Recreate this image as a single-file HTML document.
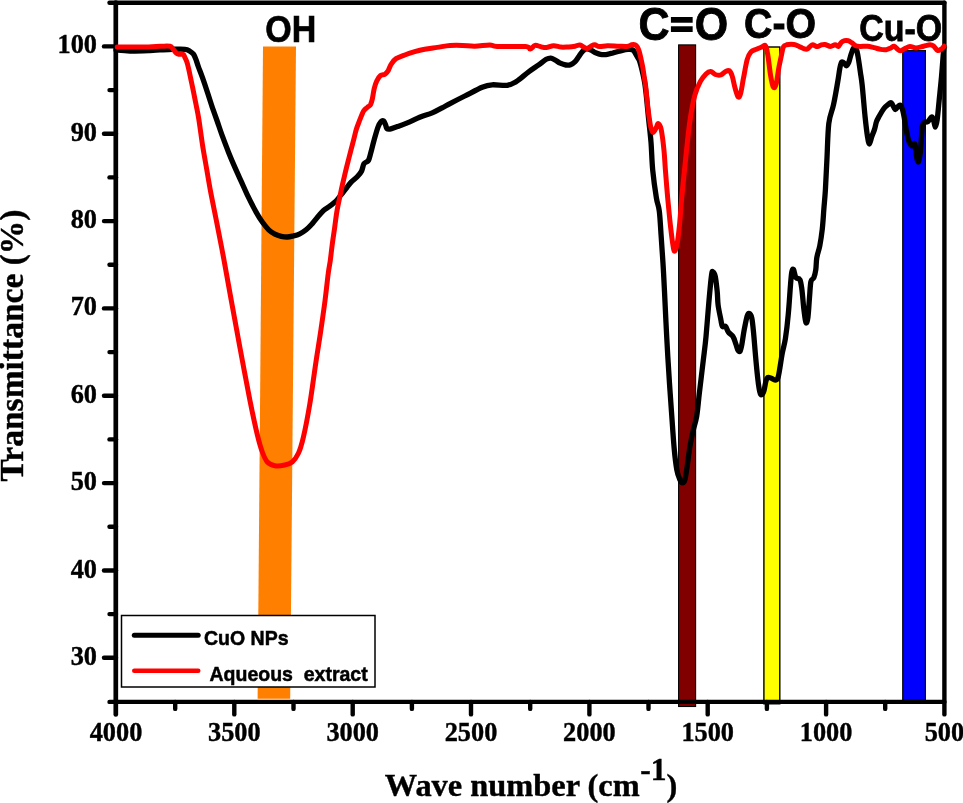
<!DOCTYPE html>
<html lang="en"><head><meta charset="utf-8"><title>FTIR spectra</title>
<style>html,body{margin:0;padding:0;background:#fff}svg{display:block;will-change:transform}.s{font-family:"Liberation Serif",serif;font-weight:bold;fill:#000}.a{font-family:"Liberation Sans",sans-serif;font-weight:bold;fill:#000}</style></head><body>
<svg width="963" height="803" viewBox="0 0 963 803">
<rect width="963" height="803" fill="#fff"/>
<polygon points="263,46.4 296,46.4 290.2,698.8 257.6,698.8" fill="#ff8000"/>
<rect x="678.6" y="44.9" width="17" height="661.6" fill="#800000" stroke="#000" stroke-width="1.1"/>
<rect x="763.9" y="47" width="15.9" height="656.8" fill="#ffff00" stroke="#000" stroke-width="1.4"/>
<rect x="902.75" y="50.6" width="22.65" height="650" fill="#0000ff" stroke="#000" stroke-width="1.2"/>
<g stroke="#000" stroke-width="4.4" stroke-linecap="round" fill="none">
<path d="M115.8 2.7 V714.4" stroke-width="4.7"/>
<path d="M944.4 2.7 V714.4"/>
<path d="M109.5 2.7 H944.4"/>
<path d="M109.5 701.9 H944.4"/>
<path d="M104 657.8 H116"/>
<path d="M104 570.5 H116"/>
<path d="M104 483.1 H116"/>
<path d="M104 395.8 H116"/>
<path d="M104 308.4 H116"/>
<path d="M104 221.1 H116"/>
<path d="M104 133.7 H116"/>
<path d="M104 46.4 H116"/>
<path d="M109.5 614.1 H116"/>
<path d="M109.5 526.8 H116"/>
<path d="M109.5 439.4 H116"/>
<path d="M109.5 352.1 H116"/>
<path d="M109.5 264.8 H116"/>
<path d="M109.5 177.4 H116"/>
<path d="M109.5 90.1 H116"/>
<path d="M234.3 701.9 V714.4"/>
<path d="M352.7 701.9 V714.4"/>
<path d="M471.0 701.9 V714.4"/>
<path d="M589.4 701.9 V714.4"/>
<path d="M707.7 701.9 V714.4"/>
<path d="M826.1 701.9 V714.4"/>
<path d="M175.2 701.9 V708.9"/>
<path d="M293.5 701.9 V708.9"/>
<path d="M411.9 701.9 V708.9"/>
<path d="M530.2 701.9 V708.9"/>
<path d="M648.5 701.9 V708.9"/>
<path d="M766.9 701.9 V708.9"/>
<path d="M885.2 701.9 V708.9"/>
</g>
<path d="M116.0 50.0C118.3 50.2 124.3 50.9 130.0 51.0C135.7 51.1 145.0 50.7 150.0 50.5C155.0 50.3 156.2 50.1 160.0 49.9C163.8 49.7 168.3 49.4 172.5 49.3C176.7 49.2 182.0 49.0 184.9 49.3C187.8 49.6 188.5 50.4 189.9 51.2C191.3 52.0 192.6 52.8 193.6 54.3C194.6 55.8 195.3 57.7 196.1 59.9C196.9 62.1 197.5 64.5 198.6 67.4C199.7 70.3 200.9 73.2 202.4 77.4C203.9 81.6 205.8 87.3 207.4 92.3C209.1 97.3 210.7 102.7 212.3 107.3C213.9 111.9 215.1 115.2 216.8 120.0C218.5 124.8 220.4 130.8 222.4 136.2C224.4 141.6 226.5 147.2 228.6 152.4C230.7 157.6 232.8 162.6 234.9 167.4C237.0 172.2 239.0 176.5 241.1 181.1C243.2 185.7 244.8 189.6 247.3 194.8C249.8 200.0 253.7 207.7 256.2 212.3C258.7 216.9 260.4 219.4 262.5 222.3C264.6 225.2 266.6 227.8 268.7 229.8C270.8 231.8 272.8 233.0 274.9 234.1C277.0 235.2 279.1 235.8 281.2 236.3C283.3 236.8 285.3 237.1 287.4 237.0C289.5 236.9 291.5 236.3 293.6 235.8C295.7 235.3 297.7 234.8 299.8 233.8C301.9 232.8 304.0 231.5 306.1 229.8C308.2 228.1 310.2 225.9 312.3 223.6C314.4 221.3 316.6 218.3 318.5 216.1C320.4 213.9 321.6 212.2 323.5 210.5C325.4 208.8 327.7 207.7 329.8 206.1C331.9 204.5 334.1 203.0 336.0 201.1C337.9 199.2 339.3 197.0 341.0 194.9C342.7 192.8 344.4 190.8 346.0 188.7C347.6 186.6 349.0 184.4 350.9 182.4C352.8 180.4 355.4 178.7 357.2 176.8C359.0 174.9 360.4 173.4 361.5 171.2C362.6 169.0 362.9 165.5 364.0 163.7C365.1 161.9 367.2 162.4 368.4 160.5C369.6 158.6 370.0 155.5 371.0 152.0C372.0 148.5 373.0 143.8 374.2 139.7C375.4 135.6 376.9 130.2 378.0 127.2C379.1 124.2 380.2 122.6 381.1 121.6C382.0 120.6 382.9 120.5 383.6 121.0C384.3 121.5 384.9 123.4 385.5 124.7C386.1 126.0 386.2 127.9 386.9 128.6C387.6 129.3 388.1 129.4 389.8 129.1C391.5 128.8 394.4 127.6 397.3 126.6C400.2 125.6 403.6 124.5 407.3 122.9C411.0 121.4 415.6 119.0 419.7 117.3C423.8 115.6 428.5 114.5 432.2 112.9C435.9 111.3 439.1 109.5 442.1 107.9C445.1 106.4 446.2 105.6 450.0 103.6C453.8 101.6 459.4 98.7 464.8 96.0C470.2 93.3 477.6 89.2 482.2 87.3C486.8 85.4 488.0 85.1 492.2 84.8C496.4 84.5 503.2 85.8 507.2 85.3C511.1 84.8 513.8 82.9 515.9 81.8C518.0 80.7 517.8 80.6 520.0 78.9C522.2 77.2 526.2 73.7 529.3 71.4C532.4 69.1 535.9 66.9 538.7 64.9C541.5 62.9 544.2 60.4 546.2 59.3C548.2 58.2 549.2 58.0 550.8 58.1C552.3 58.2 553.9 59.4 555.5 60.2C557.1 61.1 558.5 62.4 560.2 63.2C561.9 64.0 564.1 64.8 565.8 65.0C567.5 65.2 569.0 65.3 570.5 64.7C572.0 64.1 573.7 63.0 575.1 61.6C576.5 60.2 577.6 58.1 578.9 56.4C580.1 54.7 581.4 52.5 582.6 51.3C583.9 50.1 585.0 49.2 586.4 49.0C587.8 48.8 589.5 49.5 591.0 50.1C592.5 50.7 594.1 52.0 595.7 52.7C597.3 53.4 598.7 54.1 600.4 54.4C602.1 54.7 604.4 54.7 606.0 54.6C607.6 54.5 609.0 53.8 610.0 53.6C611.0 53.4 610.3 53.7 612.1 53.2C613.9 52.7 618.0 51.4 620.6 50.8C623.2 50.2 626.0 49.5 628.0 49.4C630.0 49.2 631.5 49.2 632.7 49.9C634.0 50.6 634.7 52.4 635.5 53.6C636.3 54.9 636.8 55.8 637.6 57.4C638.4 59.0 639.0 58.5 640.2 63.0C641.4 67.5 643.5 75.0 644.9 84.2C646.3 93.4 647.5 108.2 648.5 117.9C649.5 127.6 650.3 133.4 651.0 142.1C651.7 150.8 651.8 160.7 652.7 170.0C653.6 179.3 655.3 191.2 656.4 198.0C657.5 204.8 658.5 204.9 659.3 211.1C660.1 217.3 660.5 226.7 661.1 235.4C661.7 244.1 662.4 254.2 663.0 263.5C663.6 272.9 663.9 279.3 664.5 291.5C665.1 303.7 665.9 321.4 666.7 336.7C667.5 352.0 668.5 368.8 669.5 383.5C670.5 398.2 671.6 413.8 672.4 424.9C673.2 435.9 673.6 442.3 674.3 449.8C675.0 457.3 675.9 464.8 676.8 469.8C677.7 474.8 679.0 477.6 679.9 479.8C680.8 482.0 681.6 482.9 682.4 482.9C683.2 482.9 684.1 482.8 684.9 479.8C685.7 476.8 686.6 470.2 687.4 464.8C688.2 459.4 688.9 453.0 689.8 447.4C690.7 441.8 691.9 436.4 693.0 431.2C694.1 426.0 695.6 422.6 696.7 416.2C697.8 409.8 698.3 402.0 699.4 392.8C700.5 383.6 702.1 370.4 703.2 361.0C704.3 351.6 705.1 346.4 706.0 336.7C706.9 327.0 707.9 313.3 708.8 303.0C709.7 292.7 710.9 279.8 711.6 274.7C712.3 269.6 712.5 271.9 713.1 272.2C713.7 272.5 714.6 273.3 715.3 276.5C716.0 279.7 716.7 286.8 717.2 291.5C717.7 296.2 717.5 300.3 718.1 305.0C718.7 309.7 720.2 316.3 720.9 319.9C721.6 323.5 721.6 325.3 722.4 326.4C723.2 327.5 724.6 325.4 725.6 326.4C726.6 327.3 727.1 330.4 728.4 332.1C729.6 333.8 731.9 334.7 733.1 336.7C734.4 338.7 735.1 342.0 735.9 344.2C736.7 346.4 737.1 348.6 737.8 349.8C738.5 351.0 739.3 352.2 740.0 351.3C740.7 350.4 741.2 347.9 741.9 344.2C742.6 340.5 743.4 334.0 744.3 329.3C745.2 324.6 746.3 318.9 747.1 316.2C747.9 313.5 748.5 313.1 749.3 313.4C750.1 313.7 751.1 314.7 751.8 318.0C752.5 321.3 753.0 326.8 753.6 333.0C754.2 339.2 754.8 347.6 755.5 355.4C756.2 363.2 757.2 373.6 757.9 379.7C758.6 385.8 759.2 389.4 759.8 391.9C760.4 394.4 761.0 394.9 761.7 394.7C762.4 394.5 763.2 393.1 763.9 390.9C764.6 388.7 765.2 383.8 765.8 381.6C766.4 379.4 766.8 378.1 767.7 377.5C768.6 376.9 770.2 377.8 771.4 378.2C772.6 378.6 774.0 380.2 775.1 380.1C776.2 380.1 777.1 379.8 777.9 377.9C778.7 376.0 779.1 372.6 779.8 368.5C780.5 364.4 781.3 358.6 782.2 353.6C783.1 348.6 784.4 345.0 785.4 338.6C786.4 332.2 787.4 323.9 788.2 315.0C789.1 306.1 789.9 292.2 790.5 285.0C791.1 277.8 791.3 274.6 791.8 272.0C792.3 269.4 792.8 268.6 793.5 269.5C794.2 270.4 794.8 275.9 795.9 277.6C797.0 279.3 798.9 277.6 799.9 279.6C800.9 281.6 801.2 284.6 801.9 289.6C802.6 294.6 803.2 304.0 803.9 309.5C804.6 315.0 805.2 321.2 805.9 322.5C806.6 323.8 807.3 321.6 807.9 317.5C808.5 313.4 809.0 303.6 809.5 297.6C810.0 291.6 810.2 284.9 810.9 281.6C811.6 278.3 813.1 279.6 813.9 277.6C814.7 275.6 815.3 273.0 815.8 269.7C816.3 266.4 816.1 261.7 816.8 257.7C817.5 253.7 818.9 250.3 819.8 245.7C820.7 241.0 821.5 235.8 822.2 229.8C822.9 223.8 823.3 216.6 823.8 209.9C824.3 203.2 824.9 198.2 825.4 189.9C825.9 181.6 826.3 171.1 826.9 160.0C827.5 148.9 827.7 132.7 828.8 123.5C829.9 114.3 832.0 111.9 833.5 104.8C835.0 97.7 836.9 86.7 837.9 80.7C838.9 74.7 839.2 71.7 839.8 68.6C840.4 65.5 840.9 63.0 841.7 62.1C842.5 61.2 843.7 62.9 844.5 63.5C845.3 64.1 845.7 66.0 846.4 65.8C847.1 65.6 847.9 64.4 848.7 62.5C849.5 60.6 850.2 57.0 851.0 54.6C851.8 52.2 852.8 49.4 853.4 48.3C854.0 47.2 854.3 47.5 854.8 47.8C855.3 48.1 856.0 48.0 856.6 49.9C857.2 51.8 857.9 55.6 858.5 59.3C859.1 63.0 859.8 67.9 860.4 72.3C861.0 76.7 861.4 77.8 862.2 85.4C863.0 93.0 864.3 109.4 865.2 117.9C866.1 126.4 866.8 132.2 867.5 136.5C868.2 140.8 868.7 144.0 869.4 144.0C870.1 144.0 870.9 139.0 871.8 136.5C872.7 134.0 873.8 131.6 874.6 129.1C875.4 126.6 875.7 123.8 876.5 121.6C877.3 119.4 878.1 118.2 879.3 116.0C880.5 113.8 882.5 110.4 883.9 108.5C885.3 106.6 886.5 105.7 887.7 104.8C889.0 103.9 890.2 102.1 891.4 102.9C892.6 103.7 894.0 108.8 895.1 109.4C896.2 110.0 897.0 107.2 897.9 106.6C898.8 106.0 899.8 104.5 900.8 105.7C901.8 107.0 902.7 109.9 903.6 114.1C904.5 118.3 905.5 126.2 906.4 130.9C907.3 135.6 908.3 139.6 909.2 142.1C910.1 144.6 911.1 145.6 912.0 145.9C912.9 146.2 914.0 142.1 914.8 144.0C915.6 145.9 916.0 154.1 916.6 157.1C917.2 160.1 917.9 162.7 918.5 161.8C919.1 160.9 919.8 157.3 920.4 151.5C921.0 145.7 921.7 132.0 922.3 127.2C922.9 122.4 923.2 123.4 924.1 122.5C925.0 121.6 926.6 122.5 927.9 121.6C929.1 120.7 930.7 117.2 931.6 116.9C932.5 116.6 932.9 118.0 933.5 119.7C934.1 121.4 934.7 127.2 935.3 127.2C935.9 127.2 936.6 124.1 937.2 119.7C937.8 115.3 938.4 108.2 939.1 101.0C939.8 93.8 940.8 84.8 941.5 76.7C942.2 68.6 943.0 57.4 943.4 52.4C943.8 47.4 943.9 47.9 944.0 47.0" fill="none" stroke="#000" stroke-width="5.3" stroke-linejoin="round" stroke-linecap="round"/>
<path d="M117.3 46.9C121.1 46.9 132.9 47.2 140.0 47.1C147.1 47.0 155.0 46.4 160.0 46.3C165.0 46.2 167.8 45.8 170.0 46.3C172.2 46.8 172.1 48.1 173.1 49.2C174.1 50.3 175.3 52.2 176.2 53.1C177.1 54.0 177.5 54.1 178.7 54.3C179.8 54.5 182.1 53.8 183.1 54.3C184.1 54.8 184.2 55.8 184.9 57.4C185.6 59.0 186.5 60.3 187.4 63.6C188.3 66.9 189.5 72.6 190.5 77.4C191.5 82.2 192.7 87.7 193.6 92.3C194.5 96.9 195.2 100.4 196.1 104.8C196.9 109.2 197.6 111.8 198.7 118.5C199.8 125.2 201.2 136.3 202.5 144.9C203.8 153.5 205.4 161.5 206.8 169.8C208.2 178.1 209.6 186.5 211.2 194.8C212.8 203.1 214.1 209.1 216.2 219.7C218.3 230.3 221.2 245.1 223.7 258.5C226.2 271.9 228.5 285.2 231.2 300.0C233.9 314.8 236.8 330.8 239.9 347.4C243.0 364.0 246.9 385.2 249.8 399.7C252.7 414.2 255.2 425.9 257.3 434.6C259.4 443.3 260.6 447.4 262.3 452.0C264.0 456.6 265.2 459.7 267.3 462.0C269.4 464.3 271.9 465.2 274.8 465.7C277.7 466.2 281.8 465.6 284.7 465.0C287.6 464.4 289.9 463.9 292.2 462.0C294.5 460.1 296.5 457.4 298.4 453.3C300.3 449.2 301.5 445.2 303.4 437.1C305.3 429.0 307.6 417.2 309.7 404.7C311.8 392.2 314.0 374.8 315.9 362.3C317.8 349.8 319.4 340.3 320.9 329.9C322.4 319.5 323.9 309.5 325.1 300.0C326.3 290.5 327.4 279.7 328.3 273.0C329.2 266.3 329.8 264.4 330.4 259.7C331.0 255.0 331.5 250.1 332.2 244.7C332.9 239.3 333.9 233.1 334.7 227.3C335.5 221.5 336.1 215.8 337.2 209.8C338.2 203.8 339.8 197.0 341.0 191.2C342.2 185.4 343.5 180.2 344.7 175.0C345.9 169.8 346.9 165.9 348.4 160.0C349.9 154.1 352.4 144.8 353.7 139.7C355.0 134.6 355.2 133.0 356.2 129.7C357.2 126.4 358.7 122.8 359.9 119.7C361.1 116.6 362.4 113.1 363.6 111.0C364.9 108.9 366.2 108.3 367.4 107.3C368.5 106.3 369.7 106.2 370.5 104.8C371.3 103.3 371.8 101.3 372.4 98.6C373.0 95.9 373.5 91.5 374.2 88.6C374.9 85.7 375.6 83.3 376.7 81.1C377.8 78.9 379.1 76.6 380.5 75.5C381.9 74.4 383.6 75.0 384.8 74.3C386.0 73.6 386.8 72.9 387.9 71.2C388.9 69.5 389.8 66.4 391.1 64.3C392.5 62.2 393.7 60.2 396.0 58.7C398.3 57.2 401.7 56.2 404.8 55.0C407.9 53.8 411.4 52.7 414.7 51.7C418.0 50.7 420.9 49.9 424.7 49.2C428.4 48.5 433.0 48.0 437.2 47.4C441.4 46.8 445.8 45.8 450.0 45.5C454.2 45.2 458.2 45.3 462.3 45.4C466.4 45.5 470.2 46.3 474.8 46.2C479.4 46.1 486.0 44.9 489.7 44.9C493.4 44.9 491.2 46.1 497.2 46.4C503.2 46.7 520.1 46.2 525.6 46.6C531.1 47.0 528.7 49.2 530.3 49.0C531.9 48.8 533.3 45.8 535.0 45.4C536.7 45.0 538.7 46.2 540.6 46.6C542.5 47.0 544.0 47.8 546.2 47.6C548.4 47.5 551.1 45.8 553.6 45.7C556.1 45.6 558.6 46.9 561.1 47.1C563.6 47.3 566.3 47.0 568.6 46.9C570.9 46.8 573.2 46.5 575.1 46.2C577.0 45.9 578.2 44.8 579.8 45.0C581.4 45.2 583.2 47.0 584.5 47.6C585.8 48.2 586.2 48.7 587.3 48.5C588.4 48.3 589.8 46.8 591.0 46.2C592.2 45.6 593.4 44.7 594.8 44.8C596.2 44.9 597.3 46.5 599.4 46.6C601.5 46.8 604.3 45.8 607.5 45.7C610.7 45.6 615.4 46.1 618.7 46.2C622.0 46.3 624.9 46.6 627.1 46.4C629.3 46.2 630.5 45.1 631.8 44.8C633.1 44.5 634.1 44.4 635.0 44.8C635.9 45.2 636.7 45.9 637.4 47.1C638.1 48.3 638.7 49.8 639.3 51.8C639.9 53.8 640.5 56.5 641.1 59.3C641.7 62.1 642.5 65.5 643.0 68.6C643.5 71.7 643.9 74.8 644.4 77.9C644.9 81.0 645.2 82.2 645.8 87.3C646.4 92.4 647.2 101.8 648.0 108.5C648.8 115.2 649.9 123.2 650.8 127.2C651.7 131.2 652.4 132.4 653.3 132.4C654.2 132.4 655.6 128.7 656.4 127.2C657.2 125.7 657.5 123.2 658.3 123.5C659.1 123.8 660.2 124.8 661.1 129.1C662.0 133.4 663.2 142.8 663.9 149.6C664.6 156.4 664.8 161.9 665.4 170.0C666.0 178.1 666.9 188.7 667.7 198.0C668.6 207.3 669.6 218.3 670.5 226.1C671.4 233.9 672.2 240.6 672.9 244.8C673.6 249.0 673.9 251.3 674.6 251.3C675.3 251.3 676.2 249.0 677.0 244.8C677.8 240.6 678.6 233.9 679.4 226.1C680.2 218.3 680.9 207.3 681.7 198.0C682.6 188.7 683.7 177.8 684.5 170.0C685.3 162.2 685.5 159.9 686.4 151.5C687.3 143.1 688.7 129.1 690.1 119.7C691.5 110.4 693.1 101.8 694.8 95.4C696.5 89.0 698.5 85.0 700.4 81.4C702.3 77.8 704.3 75.6 706.0 73.9C707.7 72.2 709.2 71.4 710.7 71.5C712.2 71.6 713.6 73.9 715.3 74.5C717.0 75.1 719.2 75.4 720.9 74.9C722.6 74.4 724.2 72.2 725.6 71.5C727.0 70.8 728.2 70.0 729.3 70.7C730.4 71.4 731.1 72.9 732.1 75.8C733.1 78.7 734.0 84.4 735.0 87.9C736.0 91.4 737.2 96.0 738.1 96.9C739.0 97.9 739.7 96.6 740.6 93.6C741.5 90.5 742.3 84.2 743.4 78.6C744.5 73.0 745.9 64.3 747.1 59.9C748.3 55.5 749.2 53.9 750.8 52.1C752.3 50.3 754.5 50.1 756.4 49.2C758.3 48.3 760.6 47.5 762.1 46.9C763.6 46.3 764.5 44.6 765.4 45.8C766.3 47.0 766.9 49.4 767.7 54.3C768.6 59.1 769.6 69.5 770.5 74.9C771.4 80.4 772.4 85.5 773.3 87.0C774.2 88.5 775.2 87.5 776.1 84.2C777.0 80.9 778.0 72.2 778.9 67.4C779.8 62.6 780.7 58.9 781.4 55.5C782.1 52.1 782.4 48.9 783.3 47.1C784.1 45.3 784.7 45.2 786.5 44.8C788.3 44.4 792.0 44.3 794.0 44.5C796.0 44.7 797.1 45.5 798.7 46.2C800.3 46.9 802.0 48.0 803.4 48.5C804.8 49.0 806.0 49.5 807.1 49.2C808.2 48.9 809.0 47.3 809.9 46.6C810.8 45.9 811.5 44.8 812.7 44.8C814.0 44.8 816.0 46.6 817.4 46.6C818.8 46.6 819.9 45.4 821.1 45.0C822.4 44.6 823.3 44.3 824.9 44.5C826.5 44.7 828.8 46.4 830.5 46.4C832.2 46.4 833.8 44.8 835.1 44.8C836.4 44.8 837.4 46.8 838.4 46.4C839.4 46.0 840.2 43.4 841.2 42.4C842.2 41.4 843.3 40.9 844.5 40.6C845.7 40.3 847.0 40.3 848.2 40.7C849.5 41.1 850.8 42.1 852.0 42.9C853.2 43.7 854.4 45.1 855.7 45.7C857.0 46.3 858.0 46.3 860.0 46.4C862.0 46.5 865.2 46.0 867.5 46.2C869.8 46.4 871.8 47.1 874.0 47.6C876.2 48.1 878.6 49.0 880.6 49.4C882.6 49.8 884.5 49.9 886.2 49.7C887.9 49.5 889.5 48.6 890.8 48.0C892.1 47.4 893.0 46.0 894.1 46.2C895.2 46.4 896.4 48.2 897.4 49.0C898.4 49.8 899.0 50.9 900.2 50.8C901.5 50.7 903.3 49.2 904.9 48.5C906.5 47.8 908.1 46.7 910.0 46.6C911.9 46.5 913.8 48.0 916.1 47.9C918.4 47.8 921.3 46.7 923.6 46.2C925.9 45.7 928.4 44.8 930.1 44.8C931.8 44.8 932.5 45.3 933.8 46.2C935.0 47.1 936.4 49.9 937.6 50.4C938.9 50.9 940.2 49.7 941.3 49.0C942.4 48.3 943.6 46.7 944.1 46.2" fill="none" stroke="#f00" stroke-width="5" stroke-linejoin="round" stroke-linecap="round"/>
<text class="s" transform="translate(97.0,664.8) scale(1,1.060)" font-size="26.3" text-anchor="end" stroke="#000" stroke-width="0.40">30</text>
<text class="s" transform="translate(97.0,577.5) scale(1,1.060)" font-size="26.3" text-anchor="end" stroke="#000" stroke-width="0.40">40</text>
<text class="s" transform="translate(97.0,490.1) scale(1,1.060)" font-size="26.3" text-anchor="end" stroke="#000" stroke-width="0.40">50</text>
<text class="s" transform="translate(97.0,402.8) scale(1,1.060)" font-size="26.3" text-anchor="end" stroke="#000" stroke-width="0.40">60</text>
<text class="s" transform="translate(97.0,315.4) scale(1,1.060)" font-size="26.3" text-anchor="end" stroke="#000" stroke-width="0.40">70</text>
<text class="s" transform="translate(97.0,228.1) scale(1,1.060)" font-size="26.3" text-anchor="end" stroke="#000" stroke-width="0.40">80</text>
<text class="s" transform="translate(97.0,140.7) scale(1,1.060)" font-size="26.3" text-anchor="end" stroke="#000" stroke-width="0.40">90</text>
<text class="s" transform="translate(97.0,53.4) scale(1,1.060)" font-size="26.3" text-anchor="end" stroke="#000" stroke-width="0.40">100</text>
<text class="s" transform="translate(116.0,741.2) scale(1,1.060)" font-size="26.3" text-anchor="middle" stroke="#000" stroke-width="0.40">4000</text>
<text class="s" transform="translate(234.3,741.2) scale(1,1.060)" font-size="26.3" text-anchor="middle" stroke="#000" stroke-width="0.40">3500</text>
<text class="s" transform="translate(352.7,741.2) scale(1,1.060)" font-size="26.3" text-anchor="middle" stroke="#000" stroke-width="0.40">3000</text>
<text class="s" transform="translate(471.0,741.2) scale(1,1.060)" font-size="26.3" text-anchor="middle" stroke="#000" stroke-width="0.40">2500</text>
<text class="s" transform="translate(589.4,741.2) scale(1,1.060)" font-size="26.3" text-anchor="middle" stroke="#000" stroke-width="0.40">2000</text>
<text class="s" transform="translate(707.7,741.2) scale(1,1.060)" font-size="26.3" text-anchor="middle" stroke="#000" stroke-width="0.40">1500</text>
<text class="s" transform="translate(826.1,741.2) scale(1,1.060)" font-size="26.3" text-anchor="middle" stroke="#000" stroke-width="0.40">1000</text>
<text class="s" transform="translate(944.4,741.2) scale(1,1.060)" font-size="26.3" text-anchor="middle" stroke="#000" stroke-width="0.40">500</text>
<text class="s" font-size="32.4" x="384.8" y="795.6" stroke="#000" stroke-width="0.4">Wave number (cm<tspan font-size="31.5" dy="-16" dx="0.5">-1</tspan><tspan dy="16">)</tspan></text>
<text class="s" font-size="33.5" transform="translate(22.8,481.5) rotate(-90)" stroke="#000" stroke-width="0.4">Transmittance (%)</text>
<text class="a" transform="translate(265.3,42.2) scale(1,1.100)" font-size="34" stroke="#000" stroke-width="0.60">OH</text>
<text class="a" transform="translate(638.5,40.2) scale(1,1.085)" font-size="43" stroke="#000" stroke-width="0.80">C</text>
<text class="a" transform="translate(681.8,24.5) scale(0.92,0.835)" y="14.84" font-size="43" text-anchor="middle" stroke="#000" stroke-width="2.1">=</text>
<text class="a" transform="translate(694.7,40.2) scale(1,1.085)" font-size="43" stroke="#000" stroke-width="0.80">O</text>
<text class="a" transform="translate(744.1,37.6) scale(1,1.100)" font-size="39.3" stroke="#000" stroke-width="0.80">C-O</text>
<text class="a" transform="translate(859.2,40.6) scale(1,1.085)" font-size="34" stroke="#000" stroke-width="0.70">Cu-O</text>
<rect x="121.5" y="615.5" width="253.5" height="71.5" fill="#fff" stroke="#000" stroke-width="1.5"/>
<path d="M134.3 635.2 H198.2" stroke="#000" stroke-width="5" stroke-linecap="round"/>
<path d="M134.3 670.7 H198.2" stroke="#f00" stroke-width="4.6" stroke-linecap="round"/>
<text class="a" transform="translate(204.0,645.0) scale(1,1.070)" font-size="19.5" stroke="#000" stroke-width="0.50">CuO NPs</text>
<text class="a" transform="translate(209.5,680.6) scale(1,1.070)" font-size="19.5" stroke="#000" stroke-width="0.50" xml:space="preserve">Aqueous  extract</text>
</svg></body></html>
